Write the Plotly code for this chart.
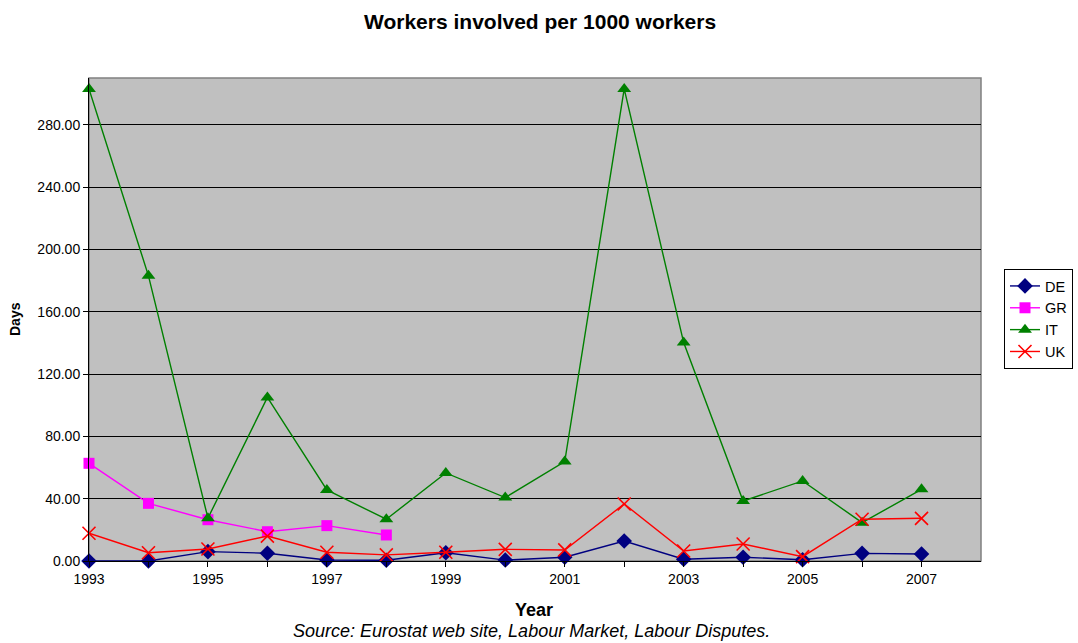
import plotly.graph_objects as go

# Strike activity: workers involved per 1000 workers, by country
years = list(range(1993, 2008))
gr_years = list(range(1993, 1999))

de = [0.0, 0.0, 6.0, 5.0, 0.6, 0.5, 5.3, 0.6, 2.4, 12.8, 1.1, 2.4, 0.8, 4.9, 4.5]
gr = [62.7, 37.0, 26.5, 18.8, 22.7, 16.7]
it = [303.0, 183.0, 27.5, 105.0, 45.6, 26.8, 56.5, 40.7, 63.8, 303.0, 140.2, 38.5, 51.4, 24.6, 46.0]
uk = [17.8, 5.3, 7.7, 16.0, 5.6, 3.9, 5.6, 7.5, 7.1, 36.6, 6.4, 10.9, 2.8, 26.8, 27.4]

tick_years = years
tick_labels = [str(y) if y % 2 == 1 else "" for y in years]
y_ticks = [0, 40, 80, 120, 160, 200, 240, 280]

FONT = "Liberation Sans, Arial, sans-serif"

W, H = 1078, 643
L, R, T, B = 89, 981, 78, 561   # plot area edges in pixels


def px_x(px):
    return (px - L) / (R - L)


def px_y(py):
    return (B - py) / (B - T)


fig = go.Figure()

series = [
    ("DE", years, de, "#000080", dict(symbol="diamond", size=12)),
    ("GR", gr_years, gr, "#FF00FF", dict(symbol="square", size=11)),
    ("IT", years, it, "#008000", dict(symbol="triangle-up", size=12)),
    ("UK", years, uk, "#FF0000", dict(symbol="x-thin-open", size=13,
                                       line=dict(width=1.6, color="#FF0000"))),
]
for name, xs, ys, color, marker in series:
    fig.add_trace(go.Scatter(
        x=xs, y=ys, name=name, mode="lines+markers",
        line=dict(color=color, width=1.4),
        marker=dict(color=color, **marker),
        cliponaxis=False,
    ))

fig.update_layout(
    width=W, height=H,
    margin=dict(l=L, r=W - R, t=T, b=H - B),
    paper_bgcolor="white",
    plot_bgcolor="#C0C0C0",
    font=dict(family=FONT, size=13, color="black"),
    showlegend=True,
    legend=dict(
        xref="container", yref="container",
        x=1004 / W, xanchor="left",
        y=1 - 269 / H, yanchor="top",
        bgcolor="white", bordercolor="black", borderwidth=1,
        font=dict(family=FONT, size=14.5),
        itemwidth=30,
    ),
    xaxis=dict(
        range=[1993, 2008], tickmode="array",
        tickvals=tick_years, ticktext=tick_labels,
        showgrid=False, zeroline=False,
        showline=True, linecolor="black", linewidth=1,
        ticks="outside", ticklen=5, tickcolor="black",
        tickfont=dict(size=14),
    ),
    yaxis=dict(
        range=[0, 310], tickmode="array",
        tickvals=y_ticks, tickformat=".2f",
        showgrid=True, gridcolor="black", gridwidth=1,
        zeroline=False,
        showline=True, linecolor="black", linewidth=1,
        ticks="outside", ticklen=5, tickcolor="black",
        tickfont=dict(size=14),
    ),
    shapes=[dict(
        type="rect", xref="paper", yref="paper", x0=0, x1=1, y0=0, y1=1,
        line=dict(color="#808080", width=1.5), layer="below",
    )],
    annotations=[
        dict(text="<b>Workers involved per 1000 workers</b>", xref="paper", yref="paper",
             x=px_x(540), y=px_y(22), xanchor="center", yanchor="middle",
             showarrow=False, font=dict(size=21)),
        dict(text="<b>Days</b>", xref="paper", yref="paper",
             x=px_x(15), y=px_y(319), xanchor="center", yanchor="middle",
             textangle=-90, showarrow=False, font=dict(size=14)),
        dict(text="<b>Year</b>", xref="paper", yref="paper",
             x=px_x(534), y=px_y(610), xanchor="center", yanchor="middle",
             showarrow=False, font=dict(size=18)),
        dict(text="<i>Source: Eurostat web site, Labour Market, Labour Disputes.</i>",
             xref="paper", yref="paper",
             x=px_x(531), y=px_y(631), xanchor="center", yanchor="middle",
             showarrow=False, font=dict(size=18)),
    ],
)

fig.write_html("out.html")
